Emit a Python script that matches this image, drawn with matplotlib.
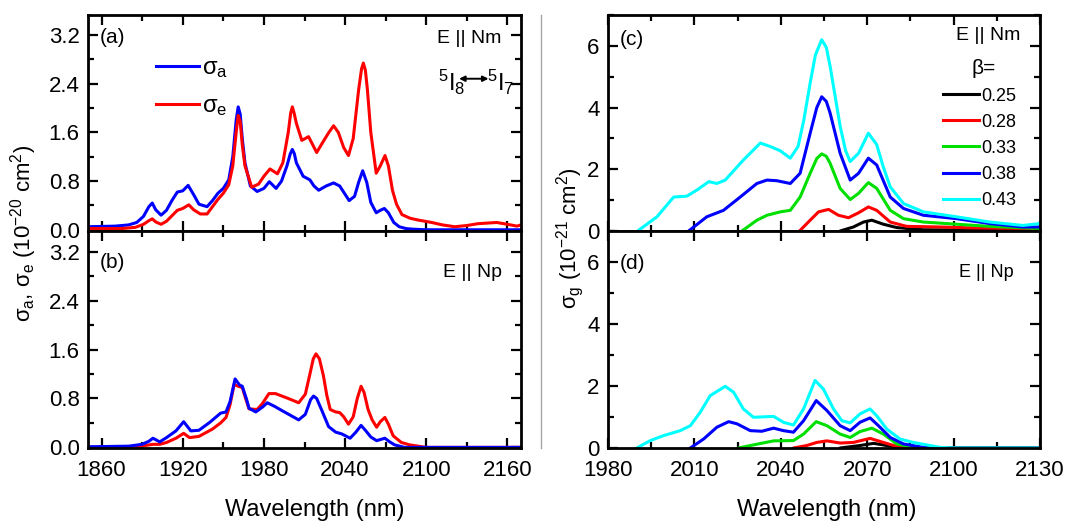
import matplotlib
matplotlib.use("Agg")
import matplotlib.pyplot as plt
from matplotlib.ticker import MultipleLocator, FormatStrFormatter
from matplotlib.lines import Line2D
from matplotlib import font_manager

# ---------------- data ----------------
# (a) E || Nm : absorption / emission cross-sections (1e-20 cm^2)
wl_a_abs = [1850, 1870, 1880, 1886, 1891, 1895, 1897.5, 1900, 1904, 1908, 1912, 1916, 1920,
            1924, 1928, 1932, 1938, 1942, 1946, 1950, 1954, 1957, 1959.5, 1961, 1962.5, 1964,
            1966, 1970, 1975, 1980, 1984, 1989, 1993, 1997, 1999.5, 2001, 2002.5, 2004, 2009,
            2014, 2017, 2020.5, 2026, 2031.5, 2036, 2043, 2047, 2050, 2053, 2056, 2059, 2063,
            2066, 2069, 2072, 2076, 2080, 2085, 2090, 2100, 2130, 2170]
sig_a_abs = [0.05, 0.06, 0.08, 0.12, 0.22, 0.38, 0.44, 0.33, 0.24, 0.32, 0.48, 0.62, 0.64,
             0.73, 0.58, 0.42, 0.38, 0.48, 0.60, 0.68, 0.82, 1.20, 1.80, 2.02, 1.90, 1.50,
             1.10, 0.72, 0.63, 0.68, 0.79, 0.68, 0.80, 1.05, 1.25, 1.32, 1.25, 1.10, 0.88,
             0.82, 0.72, 0.65, 0.72, 0.77, 0.72, 0.48, 0.55, 0.78, 0.97, 0.78, 0.45, 0.28,
             0.32, 0.35, 0.28, 0.12, 0.05, 0.02, 0.01, 0.0, 0.0, 0.0]
wl_a_em = [1850, 1875, 1885, 1891, 1895, 1897.5, 1900, 1904, 1908, 1912, 1916, 1920, 1924.5,
           1928, 1933, 1938, 1942, 1946, 1950, 1954, 1957, 1959.5, 1961, 1962.5, 1964, 1966,
           1971, 1976, 1980, 1984.5, 1990, 1994, 1998, 1999.8, 2001, 2002.3, 2004, 2008,
           2013, 2016, 2019, 2023, 2028, 2031.5, 2035, 2039, 2042.5, 2046, 2050, 2052.2,
           2053.5, 2055, 2056.5, 2059, 2063, 2066, 2069.5, 2072, 2075, 2078, 2082, 2088,
           2094, 2104, 2112, 2121, 2130, 2138, 2145, 2152, 2160, 2167, 2170]
sig_a_em = [0.02, 0.02, 0.04, 0.09, 0.15, 0.18, 0.13, 0.09, 0.14, 0.23, 0.32, 0.35, 0.41,
            0.33, 0.26, 0.26, 0.38, 0.50, 0.60, 0.74, 1.05, 1.60, 1.88, 1.78, 1.40, 1.05,
            0.70, 0.75, 0.88, 1.00, 0.92, 1.10, 1.60, 1.92, 2.02, 1.92, 1.75, 1.47,
            1.53, 1.40, 1.27, 1.42, 1.60, 1.71, 1.60, 1.35, 1.22, 1.50, 2.30, 2.65,
            2.74, 2.62, 2.30, 1.60, 0.93, 1.05, 1.22, 1.05, 0.65, 0.42, 0.25, 0.19,
            0.16, 0.12, 0.08, 0.05, 0.07, 0.10, 0.11, 0.12, 0.09, 0.06, 0.08]

# (b) E || Np
wl_b_abs = [1850, 1880, 1890, 1895, 1898, 1903, 1908, 1915, 1920.7, 1926, 1932, 1940, 1948,
            1952, 1955, 1958.7, 1962, 1964, 1967, 1969, 1974, 1979, 1982.5, 1988, 1993.5,
            2000, 2005.7, 2010.6, 2014.5, 2016.7, 2019, 2022.9, 2027.8, 2033, 2037.6, 2043.7,
            2048, 2051.8, 2055, 2059, 2063.3, 2069.4, 2073, 2076.7, 2084, 2170]
sig_b_abs = [0.01, 0.02, 0.05, 0.10, 0.15, 0.09, 0.16, 0.27, 0.42, 0.27, 0.28, 0.41, 0.56,
             0.58, 0.75, 1.12, 1.02, 1.00, 0.80, 0.64, 0.58, 0.66, 0.73, 0.67, 0.60,
             0.52, 0.45, 0.54, 0.78, 0.84, 0.80, 0.60, 0.34, 0.25, 0.22, 0.15,
             0.25, 0.36, 0.28, 0.17, 0.11, 0.15, 0.09, 0.04, 0.0, 0.0]
wl_b_em = [1850, 1885, 1892, 1898, 1903, 1908, 1915, 1920.7, 1925, 1932, 1942, 1948, 1952,
           1955, 1958, 1961, 1964, 1966.5, 1969, 1975, 1979, 1983.7, 1988.6, 1998, 2005.7,
           2010.6, 2014, 2016.5, 2018.5, 2021, 2024, 2026.5, 2029, 2033, 2036, 2039, 2042.5,
           2046, 2049, 2051.8, 2054, 2057, 2060, 2063.3, 2066, 2069.4, 2072, 2075.5, 2081.6,
           2088, 2094, 2100, 2170]
sig_b_em = [0.0, 0.01, 0.03, 0.05, 0.05, 0.08, 0.15, 0.23, 0.16, 0.18, 0.30, 0.40, 0.49,
            0.70, 1.03, 1.00, 0.98, 0.80, 0.63, 0.62, 0.72, 0.88, 0.88, 0.80, 0.73,
            0.87, 1.20, 1.45, 1.53, 1.45, 1.17, 0.85, 0.62, 0.58, 0.57, 0.50, 0.38,
            0.50, 0.80, 1.00, 0.90, 0.62, 0.45, 0.33, 0.42, 0.49, 0.38, 0.19, 0.08,
            0.04, 0.02, 0.0, 0.0]

# (c) gain cross-section, E || Nm (1e-21 cm^2)
beta_labels = ["0.25", "0.28", "0.33", "0.38", "0.43"]
beta_colors = ["#000000", "#ff0000", "#00e000", "#0000ff", "#00ffff"]

wl_c_025 = [2055, 2060.6, 2065.2, 2068.7, 2071.6, 2075.6, 2080.3, 2089.5, 2130]
g_c_025 = [-0.5, 0.0, 0.13, 0.29, 0.35, 0.22, 0.11, 0.04, 0.02]
wl_c_028 = [2041, 2046.5, 2050.2, 2053.1, 2056.6, 2060, 2063.5, 2067, 2070.4, 2073.3, 2078,
            2083.7, 2095.3, 2106.9, 2130]
g_c_028 = [-0.5, 0.0, 0.35, 0.62, 0.70, 0.51, 0.43, 0.59, 0.78, 0.67, 0.29, 0.15, 0.13,
           0.10, 0.08]
wl_c_033 = [2021, 2026.5, 2031.7, 2035.2, 2039.8, 2043.3, 2046.7, 2050.2, 2052.5, 2054.2,
            2055.8, 2057.1, 2060.6, 2064.1, 2067, 2070.4, 2073.3, 2078, 2082.6, 2089.5, 2101,
            2112.6, 2130]
g_c_033 = [-0.5, 0.0, 0.35, 0.51, 0.62, 0.67, 1.10, 1.87, 2.35, 2.50, 2.42, 2.20, 1.38,
           1.02, 1.22, 1.57, 1.38, 0.67, 0.40, 0.29, 0.22, 0.15, 0.08]
wl_c_038 = [2003, 2008, 2014.3, 2020.1, 2025.9, 2031.7, 2035.2, 2038.6, 2043.3, 2046.7,
            2050.2, 2052.5, 2054.2, 2055.8, 2057.1, 2060.6, 2064.1, 2067, 2070.4, 2073.3,
            2078, 2082.6, 2089.5, 2101, 2112.6, 2124, 2130]
g_c_038 = [-0.5, 0.0, 0.46, 0.67, 1.10, 1.54, 1.65, 1.63, 1.54, 1.87, 3.17, 4.00, 4.35,
           4.20, 3.83, 2.52, 1.65, 1.87, 2.36, 2.14, 1.10, 0.73, 0.51, 0.40, 0.24, 0.13,
           0.13]
wl_c_043 = [1985, 1990.3, 1997, 2002.8, 2007.4, 2010.9, 2015, 2017.8, 2020.7, 2027, 2032.9,
            2036.3, 2039.8, 2043.3, 2046, 2048, 2050.2, 2052, 2054.2, 2055.8, 2057.1,
            2060.6, 2062.5, 2064.1, 2067, 2070.4, 2073.3, 2075.5, 2078, 2082.6, 2089.5,
            2101, 2112.6, 2124, 2130]
g_c_043 = [-0.6, 0.0, 0.46, 1.10, 1.13, 1.33, 1.60, 1.54, 1.65, 2.30, 2.85, 2.74, 2.60,
           2.36, 2.74, 3.60, 4.80, 5.70, 6.20, 5.95, 5.35, 3.40, 2.60, 2.25, 2.52, 3.17,
           2.80, 2.10, 1.43, 0.89, 0.62, 0.46, 0.29, 0.18, 0.24]

# (d) gain cross-section, E || Np (1e-21 cm^2)
wl_d_025 = [2056, 2060.6, 2067.5, 2072.2, 2076.8, 2081.4, 2086, 2130]
g_d_025 = [-0.4, 0.0, 0.08, 0.15, 0.08, 0.01, 0.0, 0.0]
wl_d_028 = [2040, 2044.4, 2049, 2052.5, 2056, 2060.6, 2065.2, 2071, 2075.6, 2080.3, 2086, 2130]
g_d_028 = [-0.4, 0.0, 0.08, 0.18, 0.23, 0.16, 0.18, 0.31, 0.18, 0.05, 0.0, 0.0]
wl_d_033 = [2020, 2025.3, 2030.5, 2037.5, 2044.4, 2047.9, 2052.3, 2056, 2060.6, 2064.1,
            2067.5, 2071.6, 2075.6, 2080.3, 2086, 2092, 2130]
g_d_033 = [-0.4, 0.0, 0.10, 0.23, 0.24, 0.45, 0.85, 0.72, 0.45, 0.34, 0.53, 0.64, 0.45,
           0.13, 0.02, 0.0, 0.0]
wl_d_038 = [2003, 2008.6, 2013.2, 2017.8, 2021.9, 2024.8, 2029.4, 2033.4, 2037.5, 2040.9,
            2044.4, 2047.9, 2052.3, 2056, 2060.6, 2064.1, 2067.5, 2071, 2073.9, 2078,
            2082.6, 2089.5, 2095, 2130]
g_d_038 = [-0.4, 0.0, 0.29, 0.67, 0.85, 0.78, 0.56, 0.54, 0.64, 0.56, 0.51, 0.88, 1.53,
           1.21, 0.72, 0.56, 0.83, 0.97, 0.72, 0.34, 0.13, 0.02, 0.0, 0.0]
wl_d_043 = [1985, 1990, 1994.7, 1999.3, 2005.1, 2008.6, 2012, 2015.5, 2020.7, 2023.6, 2027,
            2030.5, 2037.5, 2040.9, 2044.4, 2047.9, 2051.9, 2054.8, 2058.3, 2061.2, 2064.1,
            2067.5, 2071, 2073.3, 2076.8, 2081.4, 2086, 2095.3, 2100, 2130]
g_d_043 = [-0.4, 0.0, 0.24, 0.40, 0.56, 0.72, 1.15, 1.69, 1.99, 1.80, 1.26, 0.99, 1.02,
           0.83, 0.74, 1.26, 2.18, 1.90, 1.26, 0.88, 0.81, 1.10, 1.26, 1.04, 0.61, 0.29,
           0.18, 0.02, 0.0, 0.0]

left_xticks = [1860, 1920, 1980, 2040, 2100, 2160]
right_xticks = [1980, 2010, 2040, 2070, 2100, 2130]

# ---------------- style ----------------
names = {f.name for f in font_manager.fontManager.ttflist}
base = "Liberation Sans Narrow" if "Liberation Sans Narrow" in names else "Liberation Sans"
plt.rcParams["font.family"] = [base, "DejaVu Sans"]
plt.rcParams["mathtext.fontset"] = "custom"
plt.rcParams["mathtext.rm"] = base
plt.rcParams["mathtext.it"] = base
plt.rcParams["mathtext.bf"] = base
plt.rcParams["axes.linewidth"] = 2.0

W, H = 1078, 522
fig = plt.figure(figsize=(W / 100, H / 100), dpi=100)


def px_axes(x0, y0, x1, y1):
    return fig.add_axes([x0 / W, 1 - y1 / H, (x1 - x0) / W, (y1 - y0) / H])


ax_a = px_axes(88, 15, 521, 231)
ax_b = px_axes(88, 231, 521, 448)
ax_c = px_axes(608, 15, 1040, 231)
ax_d = px_axes(608, 231, 1040, 448)

LW = 2.2
TICK_FS = 16

for ax in (ax_a, ax_b, ax_c, ax_d):
    ax.tick_params(which="both", direction="in", top=True, right=True,
                   labelsize=TICK_FS, width=1.6)
    ax.tick_params(which="major", length=7, pad=6)
    ax.tick_params(which="minor", length=4)
    ax.tick_params(axis="x", pad=9)

# left column
for ax in (ax_a, ax_b):
    ax.set_xlim(1850, 2170)
    ax.set_xticks(left_xticks)
    ax.xaxis.set_minor_locator(MultipleLocator(30))
    ax.yaxis.set_major_locator(MultipleLocator(0.8))
    ax.yaxis.set_minor_locator(MultipleLocator(0.4))
    ax.yaxis.set_major_formatter(FormatStrFormatter("%.1f"))
ax_a.set_ylim(-0.02, 3.53)
ax_b.set_ylim(-0.01, 3.54)
ax_a.tick_params(axis="x", labelbottom=False)

la, = ax_a.plot(wl_a_abs, sig_a_abs, color="#0000ff", lw=LW)
le, = ax_a.plot(wl_a_em, sig_a_em, color="#ff0000", lw=LW)
ax_b.plot(wl_b_em, sig_b_em, color="#ff0000", lw=LW)
ax_b.plot(wl_b_abs, sig_b_abs, color="#0000ff", lw=LW)

ax_a.legend([la, le], [r"$\sigma_{\rm a}$", r"$\sigma_{\rm e}$"], loc="upper left",
            bbox_to_anchor=(0.13, 0.86), frameon=False, fontsize=17,
            handlelength=1.8, handletextpad=0.15, labelspacing=0.65, borderpad=0)

ax_a.text(0.028, 0.895, "(a)", transform=ax_a.transAxes, fontsize=15, va="center")
ax_b.text(0.028, 0.857, "(b)", transform=ax_b.transAxes, fontsize=15, va="center")
ax_a.text(0.955, 0.893, "E || Nm", transform=ax_a.transAxes, fontsize=14,
          ha="right", va="center")
ax_b.text(0.955, 0.81, "E || Np", transform=ax_b.transAxes, fontsize=14,
          ha="right", va="center")
ax_a.text(0.808, 0.69, r"$^5$I$_8$", transform=ax_a.transAxes, fontsize=17,
          ha="left", va="center")
ax_a.text(0.922, 0.69, r"$^5$I$_7$", transform=ax_a.transAxes, fontsize=17,
          ha="left", va="center")
ax_a.annotate("", xy=(0.925, 0.705), xytext=(0.857, 0.705),
              xycoords="axes fraction", textcoords="axes fraction",
              arrowprops=dict(arrowstyle="<|-|>", color="black", lw=1.4,
                              mutation_scale=8, shrinkA=0, shrinkB=0))

# right column
for ax in (ax_c, ax_d):
    ax.set_xlim(1980, 2130)
    ax.set_ylim(0, 7)
    ax.set_xticks(right_xticks)
    ax.xaxis.set_minor_locator(MultipleLocator(15))
    ax.yaxis.set_major_locator(MultipleLocator(2))
    ax.yaxis.set_minor_locator(MultipleLocator(1))
ax_c.tick_params(axis="x", labelbottom=False)

c_series = [(wl_c_025, g_c_025), (wl_c_028, g_c_028), (wl_c_033, g_c_033),
            (wl_c_038, g_c_038), (wl_c_043, g_c_043)]
d_series = [(wl_d_025, g_d_025), (wl_d_028, g_d_028), (wl_d_033, g_d_033),
            (wl_d_038, g_d_038), (wl_d_043, g_d_043)]
handles = []
for (wl, g), col in zip(c_series, beta_colors):
    h, = ax_c.plot(wl, g, color=col, lw=LW)
    handles.append(h)
for (wl, g), col in zip(d_series, beta_colors):
    ax_d.plot(wl, g, color=col, lw=LW)

ax_c.legend(handles, beta_labels, loc="upper left", bbox_to_anchor=(0.755, 0.705),
            frameon=False, fontsize=13, handlelength=2.0, handletextpad=0.1,
            labelspacing=0.5, borderpad=0)
ax_c.text(0.028, 0.885, "(c)", transform=ax_c.transAxes, fontsize=15, va="center")
ax_d.text(0.028, 0.85, "(d)", transform=ax_d.transAxes, fontsize=15, va="center")
ax_c.text(0.955, 0.905, "E || Nm", transform=ax_c.transAxes, fontsize=14,
          ha="right", va="center")
ax_c.text(0.87, 0.75, "β=", transform=ax_c.transAxes, fontsize=15,
          ha="center", va="center")
ax_d.text(0.94, 0.81, "E || Np", transform=ax_d.transAxes, fontsize=13,
          ha="right", va="center")

# axis titles
fig.text(24 / W, 1 - 233 / H, r"$\sigma_{\rm a}$, $\sigma_{\rm e}$ (10$^{-20}$ cm$^2$)",
         rotation=90, ha="center", va="center", fontsize=16)
fig.text(570 / W, 1 - 238 / H, r"$\sigma_{\rm g}$ (10$^{-21}$ cm$^2$)",
         rotation=90, ha="center", va="center", fontsize=16)
fig.text(315 / W, 1 - 521 / H, "Wavelength (nm)", ha="center", va="bottom", fontsize=17)
fig.text(827 / W, 1 - 521 / H, "Wavelength (nm)", ha="center", va="bottom", fontsize=17)

# separator between the two halves
fig.add_artist(Line2D([541 / W, 541 / W], [1 - 15 / H, 1 - 448 / H],
                      color="0.65", lw=1.0))

fig.savefig("out.png", dpi=100)
